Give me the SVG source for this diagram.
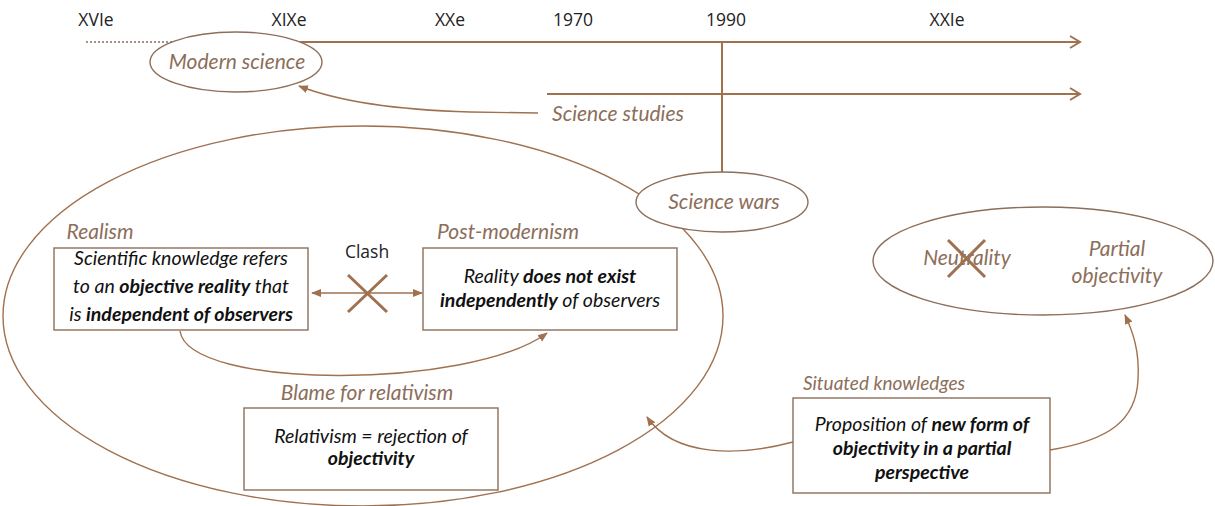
<svg xmlns="http://www.w3.org/2000/svg" width="1215" height="506" viewBox="0 0 1215 506">
<style>
.ln{fill:none;stroke:#A0714F;stroke-width:2}
.thin{fill:none;stroke:#A0714F;stroke-width:1.4}
.lbl{font-family:Lato,"Open Sans",sans-serif;font-style:italic;font-size:21px;fill:#8C6E5A}
.bx{fill:#fff;stroke:#8C6E5A;stroke-width:1.4}
.t{font-family:Lato,"Open Sans",sans-serif;font-style:italic;font-size:19.5px;fill:#111}
.b{font-weight:bold}
.yr{font-family:"Open Sans",Lato,sans-serif;font-size:17.5px;fill:#222}
.x{stroke:#A0714F;stroke-width:3;fill:none}
</style>
<defs>
<marker id="chev" markerWidth="14" markerHeight="14" refX="12" refY="7" orient="auto" markerUnits="userSpaceOnUse">
<path d="M2,1 L12,7 L2,13" fill="none" stroke="#A0714F" stroke-width="2"/>
</marker>
<marker id="tri" markerWidth="10" markerHeight="10" refX="9" refY="5" orient="auto" markerUnits="userSpaceOnUse">
<path d="M0,1 L10,5 L0,9 Z" fill="#A0714F"/>
</marker>
<marker id="tris" markerWidth="10" markerHeight="10" refX="1" refY="5" orient="auto" markerUnits="userSpaceOnUse">
<path d="M10,1 L0,5 L10,9 Z" fill="#A0714F"/>
</marker>
</defs>

<g id="timeline-labels">
<text class="yr" x="96" y="26" text-anchor="middle">XVIe</text>
<text class="yr" x="289" y="26" text-anchor="middle">XIXe</text>
<text class="yr" x="450" y="26" text-anchor="middle">XXe</text>
<text class="yr" x="573" y="26" text-anchor="middle">1970</text>
<text class="yr" x="726" y="26" text-anchor="middle">1990</text>
<text class="yr" x="947" y="26" text-anchor="middle">XXIe</text>
</g>

<g id="connectors">
<line x1="86" y1="42" x2="172" y2="42" stroke="#8C6E5A" stroke-width="1.6" stroke-dasharray="2,2"/>
<line class="ln" x1="300" y1="42" x2="1080" y2="42" marker-end="url(#chev)"/>
<line class="ln" x1="547" y1="94" x2="1080" y2="94" marker-end="url(#chev)"/>
<line class="ln" x1="722" y1="42" x2="722" y2="172"/>
<path class="thin" d="M538,113 L470,112 C400,110 340,102 299,86" marker-end="url(#tri)"/>
<ellipse id="big-ellipse" class="thin" cx="363" cy="316" rx="360" ry="190"/>
<line class="thin" x1="312" y1="293" x2="422" y2="293" marker-start="url(#tris)" marker-end="url(#tri)"/>
<path class="thin" d="M180,331 C188,390 470,390 547,333" marker-end="url(#tri)"/>
<path class="thin" d="M793,442 C740,456 675,458 647,417" marker-end="url(#tri)"/>
<path class="thin" d="M1050,450 C1110,440 1136,420 1138,380 C1140,350 1132,330 1125,315" marker-end="url(#tri)"/>
</g>

<g id="modern-science">
<ellipse class="bx" cx="236" cy="62" rx="86" ry="30"/>
<text class="lbl" x="237" y="69" text-anchor="middle">Modern science</text>
</g>

<g id="science-studies">
<text class="lbl" x="618" y="121" text-anchor="middle">Science studies</text>
</g>

<g id="science-wars">
<ellipse class="bx" cx="722" cy="202" rx="86" ry="30"/>
<text class="lbl" x="724" y="209" text-anchor="middle">Science wars</text>
</g>

<g id="realism">
<text class="lbl" x="100" y="239" text-anchor="middle">Realism</text>
<rect class="bx" x="54" y="248" width="254" height="82"/>
<text class="t" x="181" y="265" text-anchor="middle">Scientific knowledge refers</text>
<text class="t" x="181" y="293" text-anchor="middle">to an <tspan class="b">objective reality</tspan> that</text>
<text class="t" x="181" y="321" text-anchor="middle">is <tspan class="b">independent of observers</tspan></text>
</g>

<g id="clash">
<text class="yr" x="367" y="258" text-anchor="middle">Clash</text>
<path class="x" d="M348,275 L387,312 M387,275 L348,312"/>
</g>

<g id="post-modernism">
<text class="lbl" x="508" y="239" text-anchor="middle">Post-modernism</text>
<rect class="bx" x="423" y="248" width="254" height="82"/>
<text class="t" x="550" y="283" text-anchor="middle">Reality <tspan class="b">does not exist</tspan></text>
<text class="t" x="550" y="307" text-anchor="middle"><tspan class="b">independently</tspan> of observers</text>
</g>

<g id="blame">
<text class="lbl" x="367" y="400" text-anchor="middle">Blame for relativism</text>
<rect class="bx" x="244" y="408" width="254" height="82"/>
<text class="t" x="371" y="443" text-anchor="middle">Relativism = rejection of</text>
<text class="t b" x="371" y="465" text-anchor="middle">objectivity</text>
</g>

<g id="situated">
<text class="lbl" x="884" y="390" text-anchor="middle" style="font-size:19px">Situated knowledges</text>
<rect class="bx" x="793" y="398" width="257" height="95"/>
<text class="t" x="922" y="431" text-anchor="middle">Proposition of <tspan class="b">new form of</tspan></text>
<text class="t b" x="922" y="455" text-anchor="middle">objectivity in a partial</text>
<text class="t b" x="922" y="479" text-anchor="middle">perspective</text>
</g>

<g id="objectivity">
<ellipse class="bx" cx="1043" cy="261" rx="170" ry="54"/>
<text class="lbl" x="967" y="265" text-anchor="middle">Neutrality</text>
<path class="x" d="M948,240 L985,277 M985,240 L948,277"/>
<text class="lbl" x="1117" y="256" text-anchor="middle">Partial</text>
<text class="lbl" x="1117" y="283" text-anchor="middle">objectivity</text>
</g>
</svg>
